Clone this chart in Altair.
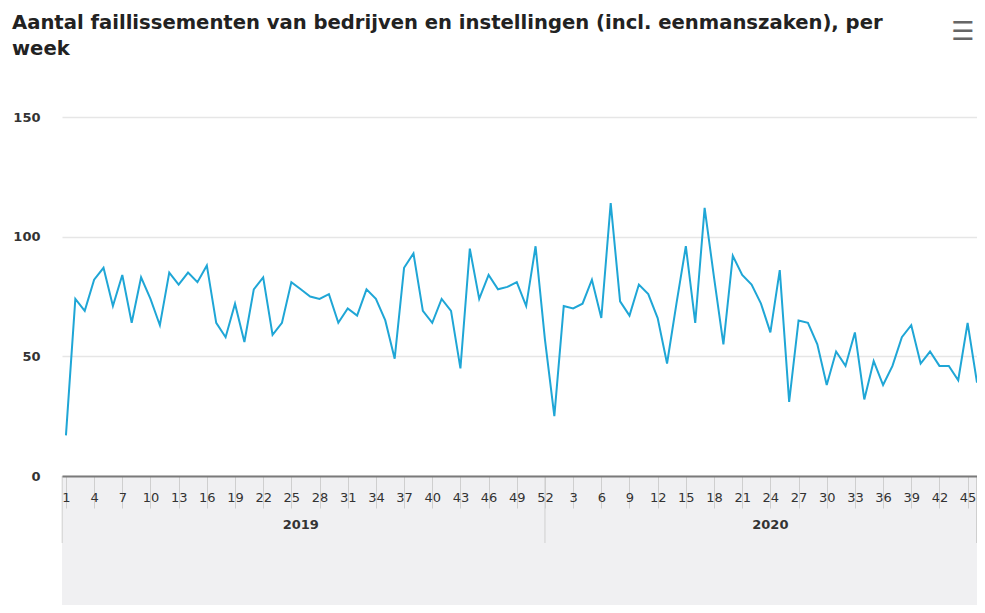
import altair as alt
import pandas as pd

# ---- data ----
values_2019 = [17, 74, 69, 82, 87, 71, 84, 64, 83, 74, 63, 85, 80, 85, 81, 88,
               64, 58, 72, 56, 78, 83, 59, 64, 81, 78, 75, 74, 76, 64, 70, 67,
               78, 74, 65, 49, 87, 93, 69, 64, 74, 69, 45, 95, 74, 84, 78, 79,
               81, 71, 96, 57]
values_2020 = [25, 71, 70, 72, 82, 66, 114, 73, 67, 80, 76, 66, 47, 72, 96, 64,
               112, 83, 55, 92, 84, 80, 72, 60, 86, 31, 65, 64, 55, 38, 52, 46,
               60, 32, 48, 38, 46, 58, 63, 47, 52, 46, 46, 40, 64, 39]
years = ["2019", "2020"]
y_ticks = [0, 50, 100, 150]
title_lines = ["Aantal faillissementen van bedrijven en instellingen (incl. eenmanszaken), per",
               "week"]

rows = []
for i, v in enumerate(values_2019):
    rows.append({"idx": i, "year": "2019", "week": i + 1, "value": v})
for j, v in enumerate(values_2020):
    rows.append({"idx": 52 + j, "year": "2020", "week": j + 1, "value": v})
df = pd.DataFrame(rows)

n_total = len(df)
tick_idx = list(range(0, n_total, 3))          # every third week
x_domain = [-0.42, n_total - 1]

W, H = 915, 359
x_scale = alt.Scale(domain=x_domain, nice=False, zero=False)
y_scale = alt.Scale(domain=[0, 150], nice=False)

x_axis = alt.Axis(values=tick_idx, tickCount=200,
                  labelExpr="datum.value < 52 ? datum.value + 1 : datum.value - 51",
                  grid=False, domain=True, domainColor="#7a7a7a", domainWidth=2,
                  ticks=True, tickSize=32, tickColor="#cfcfcf", tickWidth=1,
                  labelPadding=-11, labelBaseline="middle", labelAlign="center",
                  labelFont="DejaVu Sans", labelFontSize=13, labelColor="#333333",
                  labelFlush=False, labelOverlap=False, title=None, zindex=2)
y_axis = alt.Axis(values=y_ticks, grid=True, gridColor="#e6e6e6", gridWidth=1.5,
                  domain=False, ticks=False, labelPadding=22,
                  labelFont="DejaVu Sans", labelFontSize=13, labelFontWeight="bold",
                  labelColor="#333333", title=None)

band = alt.Chart(pd.DataFrame({"a": [0]})).mark_rect(color="#f0f0f2").encode(
    x=alt.value(0), x2=alt.value(W), y=alt.value(H + 1), y2=alt.value(H + 140))

line = alt.Chart(df).mark_line(color="#1fa6d6", strokeWidth=2).encode(
    x=alt.X("idx:Q", scale=x_scale, axis=x_axis),
    y=alt.Y("value:Q", scale=y_scale, axis=y_axis))

sep_df = pd.DataFrame({"pos": [x_domain[0] + 0.02, 51, n_total - 1.05]})
seps = alt.Chart(sep_df).mark_rule(color="#cfcfcf", strokeWidth=1).encode(
    x=alt.X("pos:Q", scale=x_scale), y=alt.value(H), y2=alt.value(H + 67))

year_df = pd.DataFrame({"pos": [25, 75], "label": years})
year_text = alt.Chart(year_df).mark_text(
    font="DejaVu Sans", fontSize=13, fontWeight="bold", color="#333333",
    baseline="middle", align="center").encode(
    x=alt.X("pos:Q", scale=x_scale), y=alt.value(H + 49), text="label:N")

menu = alt.Chart(pd.DataFrame({"t": ["\u2630"]})).mark_text(
    font="DejaVu Sans", fontSize=26, color="#666666", align="center",
    baseline="middle").encode(x=alt.value(W - 14), y=alt.value(-85), text="t:N")

chart = alt.layer(band, line, seps, year_text, menu).properties(
    width=W, height=H,
    title=alt.TitleParams(text=title_lines, anchor="start", frame="group", dx=-50,
                          offset=-41, font="DejaVu Sans", fontSize=19.6,
                          fontWeight="bold", color="#222222", lineHeight=26),
    autosize=alt.AutoSizeParams(type="none"),
    padding={"left": 54, "top": 109, "right": 0, "bottom": 129},
).configure(background="white").configure_view(stroke=None)

chart.save("out.html", embed_options={"renderer": "svg", "actions": False})
